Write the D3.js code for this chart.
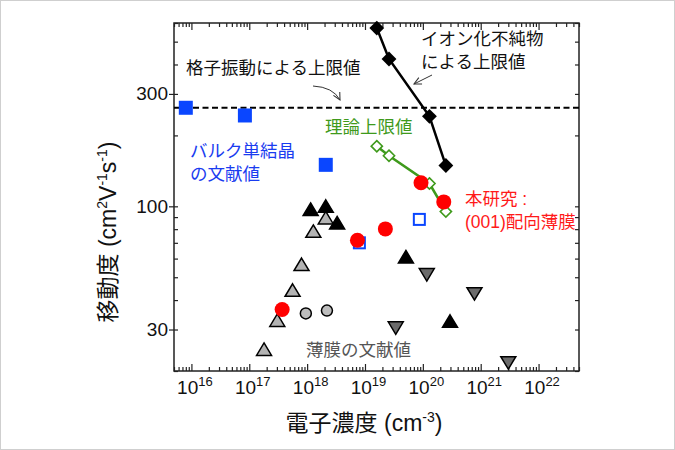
<!DOCTYPE html>
<html>
<head>
<meta charset="utf-8">
<script src="https://cdn.jsdelivr.net/npm/d3@7"></script>
<style>
  body { margin: 0; background: #fff; }
  text { font-family: "Liberation Sans", Arial, "Noto Sans CJK JP", sans-serif; }
</style>
</head>
<body>
<svg width="675" height="450"></svg>
<script>
// electron concentration (cm^-3) / mobility (cm2/Vs)
const bulkN = [8e15, 8.4e16, 2.1e18];
const bulkMu = [262, 243, 150];
const bulkOpenN = [8e18, 8.7e19];
const bulkOpenMu = [70, 88];

const thisWorkN = [3.7e17, 7.4e18, 2.25e19, 9.3e19, 2.3e20];
const thisWorkMu = [36.5, 71.8, 80.2, 126, 104.4];

const limitN = [1.6e19, 2.6e19, 1.3e20, 2.5e20];
const theoryMu = [180, 164, 125, 95];
const ionMu = [571, 422, 241, 149];
const latticeMu = 262;

const filmBlackN = [1.15e18, 2.1e18, 3.3e18, 5.1e19, 2.95e20];
const filmBlackMu = [97, 100, 85, 61, 32.5];
const filmGrayN = [2.1e18, 1.28e18, 8.0e17, 5.6e17, 3.05e17, 1.8e17];
const filmGrayMu = [89.3, 78.3, 56.6, 44, 32.8, 24.7];
const filmCircleN = [9.5e17, 2.2e18];
const filmCircleMu = [35.1, 36.1];
const filmDownN = [1.17e20, 3.4e19, 7.8e20, 3.0e21];
const filmDownMu = [51.3, 30.5, 42.6, 21.7];

const xMajor = [1e16, 1e17, 1e18, 1e19, 1e20, 1e21, 1e22];
const yMajor = [30, 100, 300];

const svg = d3.select("svg");
const plotL = 174, plotR = 579, plotT = 23, plotB = 371;

svg.append("rect")
  .attr("x", 0.5).attr("y", 0.5).attr("width", 674).attr("height", 449)
  .attr("fill", "none").attr("stroke", "#cfcfcf");

const x = d3.scaleLog().domain([5e15, 5e22]).range([plotL, plotR]);
const y = d3.scaleLog().domain([20, 600]).range([plotB, plotT]);

const xMinor = x.ticks().filter(v => !xMajor.includes(v));
const yMinor = y.ticks().filter(v => !yMajor.includes(v));

function clean(sel) {
  sel.select(".domain").remove();
  sel.selectAll("line").attr("stroke", "#222").attr("stroke-width", 1.2);
}

// bottom / top ticks
svg.append("g").attr("transform", `translate(0,${plotB})`)
  .call(d3.axisBottom(x).tickValues(xMinor).tickSize(-4).tickFormat("")).call(clean);
svg.append("g").attr("transform", `translate(0,${plotB})`)
  .call(d3.axisBottom(x).tickValues(xMajor).tickSize(-7).tickFormat("")).call(clean);
svg.append("g").attr("transform", `translate(0,${plotT})`)
  .call(d3.axisTop(x).tickValues(xMinor).tickSize(-4).tickFormat("")).call(clean);
svg.append("g").attr("transform", `translate(0,${plotT})`)
  .call(d3.axisTop(x).tickValues(xMajor).tickSize(-7).tickFormat("")).call(clean);

// left / right ticks
svg.append("g").attr("transform", `translate(${plotL},0)`)
  .call(d3.axisLeft(y).tickValues(yMinor).tickSize(-4).tickFormat("")).call(clean);
svg.append("g").attr("transform", `translate(${plotL},0)`)
  .call(d3.axisLeft(y).tickValues(yMajor).tickSize(5).tickFormat("")).call(clean)
  .selectAll("line").attr("x2", -5).attr("x1", 4);
svg.append("g").attr("transform", `translate(${plotR},0)`)
  .call(d3.axisRight(y).tickValues(y.ticks()).tickSize(-4).tickFormat("")).call(clean);

svg.append("rect")
  .attr("x", plotL).attr("y", plotT).attr("width", plotR - plotL).attr("height", plotB - plotT)
  .attr("fill", "none").attr("stroke", "#222").attr("stroke-width", 1.5);

// tick labels
xMajor.forEach(v => {
  const t = svg.append("text")
    .attr("x", x(v) + 3.5).attr("y", 394)
    .attr("text-anchor", "middle")
    .attr("font-size", 19).attr("fill", "#111");
  t.append("tspan").text("10");
  t.append("tspan").attr("dy", -8).attr("font-size", 13).text(Math.round(Math.log10(v)));
});
yMajor.forEach(v => {
  svg.append("text")
    .attr("x", 168).attr("y", y(v) + 6.5)
    .attr("text-anchor", "end")
    .attr("font-size", 19).attr("fill", "#111")
    .text(v);
});

// axis titles
const xt = svg.append("text")
  .attr("x", 364).attr("y", 431)
  .attr("text-anchor", "middle").attr("font-size", 23).attr("fill", "#111");
xt.append("tspan").text("電子濃度 (cm");
xt.append("tspan").attr("dy", -9).attr("font-size", 14).text("-3");
xt.append("tspan").attr("dy", 9).text(")");

const yt = svg.append("text")
  .attr("transform", "translate(116,232) rotate(-90)")
  .attr("text-anchor", "middle").attr("font-size", 23).attr("fill", "#111");
yt.append("tspan").text("移動度 (cm");
yt.append("tspan").attr("dy", -9).attr("font-size", 14).text("2");
yt.append("tspan").attr("dy", 9).text("V");
yt.append("tspan").attr("dy", -9).attr("font-size", 14).text("-1");
yt.append("tspan").attr("dy", 9).text("s");
yt.append("tspan").attr("dy", -9).attr("font-size", 14).text("-1");
yt.append("tspan").attr("dy", 9).text(")");

// lattice vibration limit
svg.append("line")
  .attr("x1", plotL).attr("x2", plotR)
  .attr("y1", y(latticeMu)).attr("y2", y(latticeMu))
  .attr("stroke", "#000").attr("stroke-width", 2)
  .attr("stroke-dasharray", "6,3.5");

// marker shapes
const upTri = "M0,-6.5L7.5,6L-7.5,6Z";
const downTri = "M0,6.5L7.5,-6L-7.5,-6Z";

function pts(ns, mus) { return ns.map((n, i) => [n, mus[i]]); }

// thin film literature
svg.append("g").selectAll("path")
  .data(pts(filmGrayN, filmGrayMu)).join("path")
  .attr("d", upTri)
  .attr("transform", d => `translate(${x(d[0])},${y(d[1])})`)
  .attr("fill", "#b3b3b3").attr("stroke", "#000").attr("stroke-width", 1.5);
svg.append("g").selectAll("path")
  .data(pts(filmBlackN, filmBlackMu)).join("path")
  .attr("d", upTri)
  .attr("transform", d => `translate(${x(d[0])},${y(d[1])})`)
  .attr("fill", "#000").attr("stroke", "#000").attr("stroke-width", 1.5);
svg.append("g").selectAll("path")
  .data(pts(filmDownN, filmDownMu)).join("path")
  .attr("d", downTri)
  .attr("transform", d => `translate(${x(d[0])},${y(d[1])})`)
  .attr("fill", "#6b6b6b").attr("stroke", "#000").attr("stroke-width", 1.5);
svg.append("g").selectAll("circle")
  .data(pts(filmCircleN, filmCircleMu)).join("circle")
  .attr("cx", d => x(d[0])).attr("cy", d => y(d[1])).attr("r", 5.5)
  .attr("fill", "#bdbdbd").attr("stroke", "#000").attr("stroke-width", 1.5);

// bulk single crystal
svg.append("g").selectAll("rect")
  .data(pts(bulkN, bulkMu)).join("rect")
  .attr("x", d => x(d[0]) - 7).attr("y", d => y(d[1]) - 7)
  .attr("width", 14).attr("height", 14)
  .attr("fill", "#0a46ff");
svg.append("g").selectAll("rect")
  .data(pts(bulkOpenN, bulkOpenMu)).join("rect")
  .attr("x", d => x(d[0]) - 5.5).attr("y", d => y(d[1]) - 5.5)
  .attr("width", 11).attr("height", 11)
  .attr("fill", "#fff").attr("stroke", "#0a46ff").attr("stroke-width", 2);

// ionized impurity limit
const line = d3.line().x(d => x(d[0])).y(d => y(d[1]));
svg.append("path")
  .attr("d", line(pts(limitN, ionMu)))
  .attr("fill", "none").attr("stroke", "#000").attr("stroke-width", 2.5);
svg.append("g").selectAll("path")
  .data(pts(limitN, ionMu)).join("path")
  .attr("d", d3.symbol(d3.symbolDiamond2, 140))
  .attr("transform", d => `translate(${x(d[0])},${y(d[1])})`)
  .attr("fill", "#000");

// theoretical limit
svg.append("path")
  .attr("d", line(pts(limitN, theoryMu)))
  .attr("fill", "none").attr("stroke", "#3f9a1c").attr("stroke-width", 2.5);
svg.append("g").selectAll("path")
  .data(pts(limitN, theoryMu)).join("path")
  .attr("d", d3.symbol(d3.symbolDiamond2, 80))
  .attr("transform", d => `translate(${x(d[0])},${y(d[1])})`)
  .attr("fill", "#fff").attr("stroke", "#3f9a1c").attr("stroke-width", 1.6);

// this work
svg.append("g").selectAll("circle")
  .data(pts(thisWorkN, thisWorkMu)).join("circle")
  .attr("cx", d => x(d[0])).attr("cy", d => y(d[1])).attr("r", 7.5)
  .attr("fill", "#ff0000");

// arrows
svg.append("defs").append("marker")
  .attr("id", "arr").attr("viewBox", "0 0 10 10")
  .attr("refX", 9).attr("refY", 5)
  .attr("markerWidth", 9).attr("markerHeight", 9)
  .attr("markerUnits", "userSpaceOnUse")
  .attr("orient", "auto")
  .append("path").attr("d", "M1,1L9,5L1,9")
  .attr("fill", "none").attr("stroke", "#333").attr("stroke-width", 1.2);

svg.append("path")
  .attr("d", "M313,86 Q333,87 340,100")
  .attr("fill", "none").attr("stroke", "#333").attr("stroke-width", 1)
  .attr("marker-end", "url(#arr)");
svg.append("path")
  .attr("d", "M432,75 L414,84")
  .attr("fill", "none").attr("stroke", "#333").attr("stroke-width", 1)
  .attr("marker-end", "url(#arr)");

// annotations
function label(lines, x0, y0, color) {
  lines.forEach((s, i) => {
    svg.append("text")
      .attr("x", x0).attr("y", y0 + i * 23)
      .attr("font-size", 17.5).attr("fill", color)
      .text(s);
  });
}
label(["格子振動による上限値"], 186, 74, "#111");
label(["イオン化不純物", "による上限値"], 421, 45, "#111");
label(["理論上限値"], 325, 133, "#3f9a1c");
label(["バルク単結晶", "の文献値"], 190, 157, "#1a3cf0");
label(["本研究 :", "(001)配向薄膜"], 465, 205, "#ff1a1a");
label(["薄膜の文献値"], 306, 356, "#555");
</script>
</body>
</html>
